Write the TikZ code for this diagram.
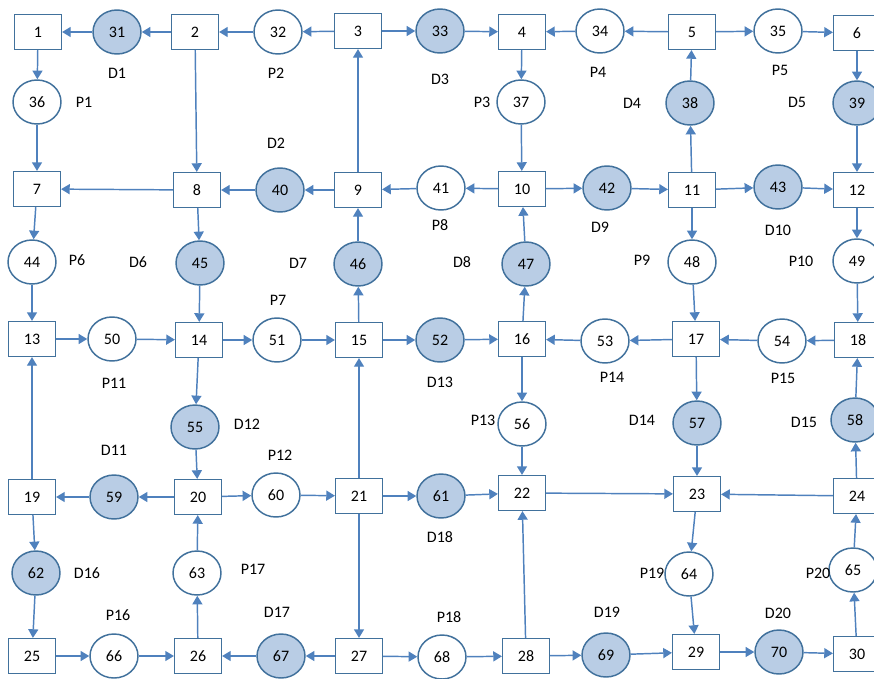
\documentclass[tikz,border=0pt]{standalone}
\usepackage{fontspec}
\setmainfont{Carlito}
\usetikzlibrary{arrows.meta,shapes.geometric}
\definecolor{lineblue}{HTML}{4F81BD}
\definecolor{rimblue}{HTML}{41719C}
\definecolor{fillblue}{HTML}{B9CDE5}
\begin{document}
\begin{tikzpicture}[x=0.75pt,y=-0.75pt,
  every node/.style={font=\fontsize{12}{14}\selectfont, text=black},
  box/.style={draw=rimblue, line width=1.1pt, minimum width=35pt, minimum height=26pt, inner sep=0pt, fill=white},
  pnode/.style={ellipse, draw=rimblue, line width=1.1pt, minimum width=36pt, minimum height=33pt, inner sep=0pt, fill=white},
  dnode/.style={pnode, fill=fillblue},
  lab/.style={inner sep=1pt},
  arr/.style={draw=lineblue, line width=1.1pt, -{Triangle[length=6.5pt,width=7.5pt]}}
]
\clip (0,0) rectangle (874,678);
% row 1
\node[box] (n1) at (38,32) {1};
\node[dnode] (n31) at (117,32) {31};
\node[box] (n2) at (195,32) {2};
\node[pnode] (n32) at (278,32) {32};
\node[box] (n3) at (358,31) {3};
\node[dnode] (n33) at (440,31) {33};
\node[box] (n4) at (522,32) {4};
\node[pnode] (n34) at (600,31) {34};
\node[box] (n5) at (692,32) {5};
\node[pnode] (n35) at (778,31) {35};
\node[box] (n6) at (857,33) {6};
% circles between row 1 and 2
\node[pnode] (n36) at (37,102) {36};
\node[pnode] (n37) at (521,102) {37};
\node[dnode] (n38) at (690,103) {38};
\node[dnode] (n39) at (857,103) {39};
% row 2
\node[box] (n7) at (37,189) {7};
\node[box] (n8) at (197,190) {8};
\node[dnode] (n40) at (280,190) {40};
\node[box] (n9) at (358,190) {9};
\node[pnode] (n41) at (441,188) {41};
\node[box] (n10) at (522,189) {10};
\node[dnode] (n42) at (607,188) {42};
\node[box] (n11) at (692,190) {11};
\node[dnode] (n43) at (778,187) {43};
\node[box] (n12) at (857,190) {12};
% circles between row 2 and 3
\node[pnode] (n44) at (32,262) {44};
\node[dnode] (n45) at (200,263) {45};
\node[dnode] (n46) at (358,264) {46};
\node[dnode] (n47) at (526,264) {47};
\node[pnode] (n48) at (692,262) {48};
\node[pnode] (n49) at (857,261) {49};
% row 3
\node[box] (n13) at (32,339) {13};
\node[pnode] (n50) at (112,339) {50};
\node[box] (n14) at (199,340) {14};
\node[pnode] (n51) at (277,340) {51};
\node[box] (n15) at (359,340) {15};
\node[dnode] (n52) at (440,340) {52};
\node[box] (n16) at (522,339) {16};
\node[pnode] (n53) at (605,341) {53};
\node[box] (n17) at (696,339) {17};
\node[pnode] (n54) at (782,341) {54};
\node[box] (n18) at (858,340) {18};
% circles between row 3 and 4
\node[dnode] (n55) at (195,427) {55};
\node[pnode] (n56) at (522,424) {56};
\node[dnode] (n57) at (697,423) {57};
\node[dnode] (n58) at (855,420) {58};
% row 4
\node[box] (n19) at (32,497) {19};
\node[dnode] (n59) at (114,497) {59};
\node[box] (n20) at (198,497) {20};
\node[pnode] (n60) at (276,495) {60};
\node[box] (n21) at (359,496) {21};
\node[dnode] (n61) at (441,496) {61};
\node[box] (n22) at (522,493) {22};
\node[box] (n23) at (697,494) {23};
\node[box] (n24) at (857,496) {24};
% circles between row 4 and 5
\node[dnode] (n62) at (36,573) {62};
\node[pnode] (n63) at (197,573) {63};
\node[pnode] (n64) at (689,574) {64};
\node[pnode] (n65) at (853,570) {65};
% row 5
\node[box] (n25) at (32,656) {25};
\node[pnode] (n66) at (114,656) {66};
\node[box] (n26) at (198,656) {26};
\node[dnode] (n67) at (281,656) {67};
\node[box] (n27) at (359,656) {27};
\node[pnode] (n68) at (442,657) {68};
\node[box] (n28) at (526,656) {28};
\node[dnode] (n69) at (606,655) {69};
\node[box] (n29) at (696,652) {29};
\node[dnode] (n70) at (779,652) {70};
\node[box] (n30) at (857,654) {30};
% labels
\node[lab] (lD1) at (117,73) {D1};
\node[lab] (lP2) at (276,73) {P2};
\node[lab] (lD3) at (440,79) {D3};
\node[lab] (lP4) at (598,72) {P4};
\node[lab] (lP5) at (780,70) {P5};
\node[lab] (lP1) at (84,102) {P1};
\node[lab] (lP3) at (482,102) {P3};
\node[lab] (lD4) at (632,103) {D4};
\node[lab] (lD5) at (797,102) {D5};
\node[lab] (lD2) at (276,143) {D2};
\node[lab] (lP8) at (440,225) {P8};
\node[lab] (lD9) at (600,227) {D9};
\node[lab] (lD10) at (778,230) {D10};
\node[lab] (lP6) at (77,260) {P6};
\node[lab] (lD6) at (138,262) {D6};
\node[lab] (lD7) at (298,263) {D7};
\node[lab] (lD8) at (462,262) {D8};
\node[lab] (lP9) at (642,260) {P9};
\node[lab] (lP10) at (801,261) {P10};
\node[lab] (lP7) at (278,300) {P7};
\node[lab] (lP11) at (114,383) {P11};
\node[lab] (lD13) at (440,382) {D13};
\node[lab] (lP14) at (612,377) {P14};
\node[lab] (lP15) at (783,378) {P15};
\node[lab] (lD12) at (247,424) {D12};
\node[lab] (lP13) at (483,420) {P13};
\node[lab] (lD14) at (642,420) {D14};
\node[lab] (lD15) at (804,422) {D15};
\node[lab] (lD11) at (114,450) {D11};
\node[lab] (lP12) at (280,455) {P12};
\node[lab] (lD18) at (440,537) {D18};
\node[lab] (lD16) at (87,573) {D16};
\node[lab] (lP17) at (253,569) {P17};
\node[lab] (lP19) at (652,573) {P19};
\node[lab] (lP20) at (818,573) {P20};
\node[lab] (lP16) at (118,615) {P16};
\node[lab] (lD17) at (277,612) {D17};
\node[lab] (lP18) at (449,617) {P18};
\node[lab] (lD19) at (607,612) {D19};
\node[lab] (lD20) at (778,613) {D20};
% connectors row 1
\draw[arr] (n31) -- (n1);
\draw[arr] (n2) -- (n31);
\draw[arr] (n32) -- (n2);
\draw[arr] (n3) -- (n32);
\draw[arr] (n3) -- (n33);
\draw[arr] (n33) -- (n4);
\draw[arr] (n34) -- (n4);
\draw[arr] (n5) -- (n34);
\draw[arr] (n5) -- (n35);
\draw[arr] (n35) -- (n6);
% verticals 1-2
\draw[arr] (n1) -- (n36);
\draw[arr] (n36) -- (n7);
\draw[arr] (n2) -- (n8);
\draw[arr] (n9) -- (n3);
\draw[arr] (n4) -- (n37);
\draw[arr] (n37) -- (n10);
\draw[arr] (n11) -- (n38);
\draw[arr] (n38) -- (n5);
\draw[arr] (n6) -- (n39);
\draw[arr] (n39) -- (n12);
% row 2
\draw[arr] (n8) -- (n7);
\draw[arr] (n40) -- (n8);
\draw[arr] (n9) -- (n40);
\draw[arr] (n41) -- (n9);
\draw[arr] (n10) -- (n41);
\draw[arr] (n10) -- (n42);
\draw[arr] (n42) -- (n11);
\draw[arr] (n11) -- (n43);
\draw[arr] (n43) -- (n12);
% verticals 2-3
\draw[arr] (n7) -- (n44);
\draw[arr] (n44) -- (n13);
\draw[arr] (n8) -- (n45);
\draw[arr] (n45) -- (n14);
\draw[arr] (n15) -- (n46);
\draw[arr] (n46) -- (n9);
\draw[arr] (n16) -- (n47);
\draw[arr] (n47) -- (n10);
\draw[arr] (n11) -- (n48);
\draw[arr] (n48) -- (n17);
\draw[arr] (n12) -- (n49);
\draw[arr] (n49) -- (n18);
% row 3
\draw[arr] (n13) -- (n50);
\draw[arr] (n50) -- (n14);
\draw[arr] (n14) -- (n51);
\draw[arr] (n51) -- (n15);
\draw[arr] (n15) -- (n52);
\draw[arr] (n52) -- (n16);
\draw[arr] (n53) -- (n16);
\draw[arr] (n17) -- (n53);
\draw[arr] (n54) -- (n17);
\draw[arr] (n18) -- (n54);
% verticals 3-4
\draw[arr] (n19) -- (n13);
\draw[arr] (n14) -- (n55);
\draw[arr] (n55) -- (n20);
\draw[arr] (n21) -- (n15);
\draw[arr] (n16) -- (n56);
\draw[arr] (n56) -- (n22);
\draw[arr] (n17) -- (n57);
\draw[arr] (n57) -- (n23);
\draw[arr] (n24) -- (n58);
\draw[arr] (n58) -- (n18);
% row 4
\draw[arr] (n59) -- (n19);
\draw[arr] (n20) -- (n59);
\draw[arr] (n20) -- (n60);
\draw[arr] (n60) -- (n21);
\draw[arr] (n21) -- (n61);
\draw[arr] (n61) -- (n22);
\draw[arr] (n22) -- (n23);
\draw[arr] (n24) -- (n23);
% verticals 4-5
\draw[arr] (n19) -- (n62);
\draw[arr] (n62) -- (n25);
\draw[arr] (n26) -- (n63);
\draw[arr] (n63) -- (n20);
\draw[arr] (n21) -- (n27);
\draw[arr] (n28) -- (n22);
\draw[arr] (n23) -- (n64);
\draw[arr] (n64) -- (n29);
\draw[arr] (n30) -- (n65);
\draw[arr] (n65) -- (n24);
% row 5
\draw[arr] (n25) -- (n66);
\draw[arr] (n66) -- (n26);
\draw[arr] (n67) -- (n26);
\draw[arr] (n27) -- (n67);
\draw[arr] (n27) -- (n68);
\draw[arr] (n68) -- (n28);
\draw[arr] (n28) -- (n69);
\draw[arr] (n69) -- (n29);
\draw[arr] (n29) -- (n70);
\draw[arr] (n70) -- (n30);
\end{tikzpicture}
\end{document}
